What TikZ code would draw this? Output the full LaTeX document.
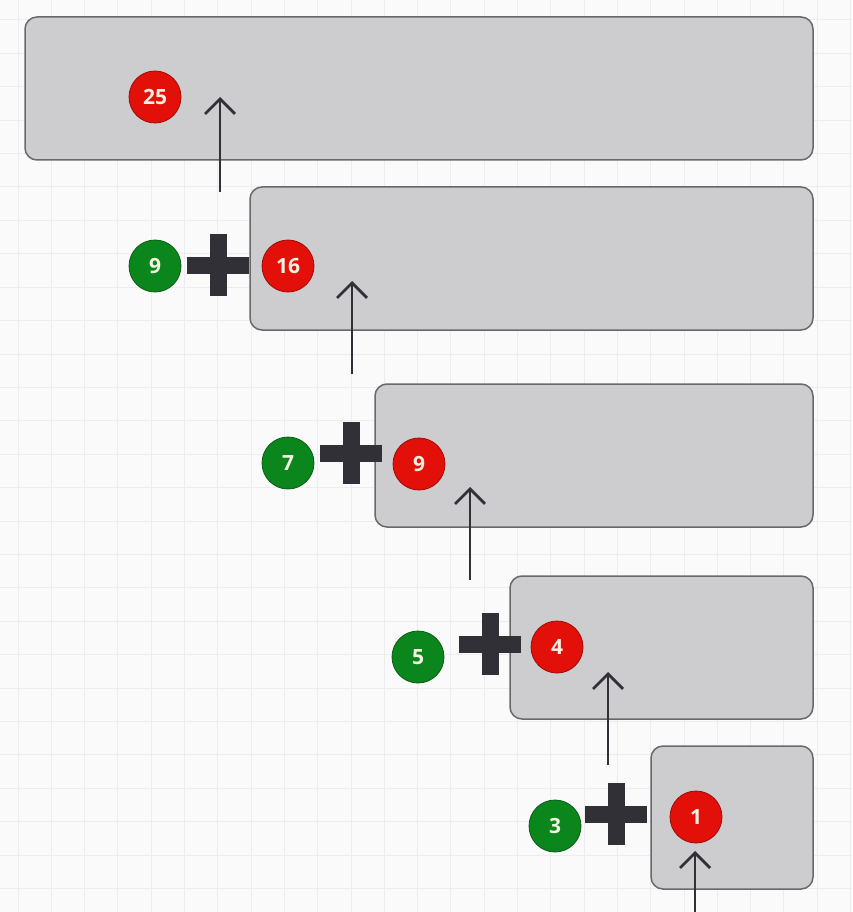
\documentclass[tikz,border=0pt]{standalone}
\usepackage{fontspec}
\setmainfont{Open Sans}
\usetikzlibrary{arrows.meta}
\definecolor{bgcol}{RGB}{250,250,250}
\definecolor{gridcol}{RGB}{237,237,239}
\definecolor{boxfill}{RGB}{205,204,207}
\definecolor{boxline}{RGB}{105,105,108}
\definecolor{dotred}{RGB}{226,16,8}
\definecolor{dotgreen}{RGB}{10,134,28}
\definecolor{dottext}{RGB}{246,241,226}
\definecolor{ink}{RGB}{48,48,54}
\begin{document}
\begin{tikzpicture}[
      x=1pt, y=-1pt,
      box/.style={draw=boxline, fill=boxfill, line width=1.5pt,
                  rounded corners=12pt, minimum height=143pt, inner sep=0pt},
      dot/.style={circle, minimum size=52pt, inner sep=0pt, line width=0.8pt,
                  text=dottext, font=\fontsize{21}{25}\selectfont\bfseries},
      reddot/.style={dot, fill=dotred, draw=dotred!70!black},
      greendot/.style={dot, fill=dotgreen, draw=dotgreen!70!black},
      plus/.style={minimum size=62pt, inner sep=0pt,
                   path picture={\draw[ink, line width=17pt]
                     (path picture bounding box.west) -- (path picture bounding box.east)
                     (path picture bounding box.north) -- (path picture bounding box.south);}},
      arr/.style={ink, line width=2.8pt,
                  -{Straight Barb[length=15pt, width=30pt, line width=2.8pt]}}
    ]
      \useasboundingbox (0,0) rectangle (852,912);
      \fill[bgcol] (0,0) rectangle (852,912);
      \foreach \i in {0,...,25} {
        \draw[gridcol, line width=1pt] ({18+33.3*\i},0) -- ({18+33.3*\i},912);
      }
      \foreach \i in {0,...,26} {
        \draw[gridcol, line width=1pt] (0,{20+33.4*\i}) -- (852,{20+33.4*\i});
      }

      % stacked boxes
      \node[box, minimum width=788pt] (b0) at (419,88.5) {};
      \node[box, minimum width=563pt] (b1) at (531.5,258.5) {};
      \node[box, minimum width=438pt] (b2) at (594,455.5) {};
      \node[box, minimum width=303pt] (b3) at (661.5,647.5) {};
      \node[box, minimum width=162pt] (b4) at (732,817.5) {};

      \node[reddot] (r0) at (155,97) {25};
      \foreach \n/\gv/\gx/\gy/\px/\py/\rv/\rx/\ry in {
          1/9/155/266/218/265/16/288/266,
          2/7/288/463/351/453/9/419/464,
          3/5/418/657/490/644/4/557/647,
          4/3/555/826/616/814/1/696/817} {
        \node[greendot] (g\n) at (\gx,\gy) {\gv};
        \node[plus] (p\n) at (\px,\py) {};
        \node[reddot] (r\n) at (\rx,\ry) {\rv};
      }

      % arrow ends
      \coordinate (s1) at (220,192); \coordinate (t1) at (220,97);
      \coordinate (s2) at (352,374); \coordinate (t2) at (352,281);
      \coordinate (s3) at (470,580); \coordinate (t3) at (470,487);
      \coordinate (s4) at (608,765); \coordinate (t4) at (608,672);
      \coordinate (s5) at (695,912); \coordinate (t5) at (695,851);
      \foreach \k in {1,...,5} {
        \draw[arr] (s\k) -- (t\k);
      }
    \end{tikzpicture}
\end{document}
